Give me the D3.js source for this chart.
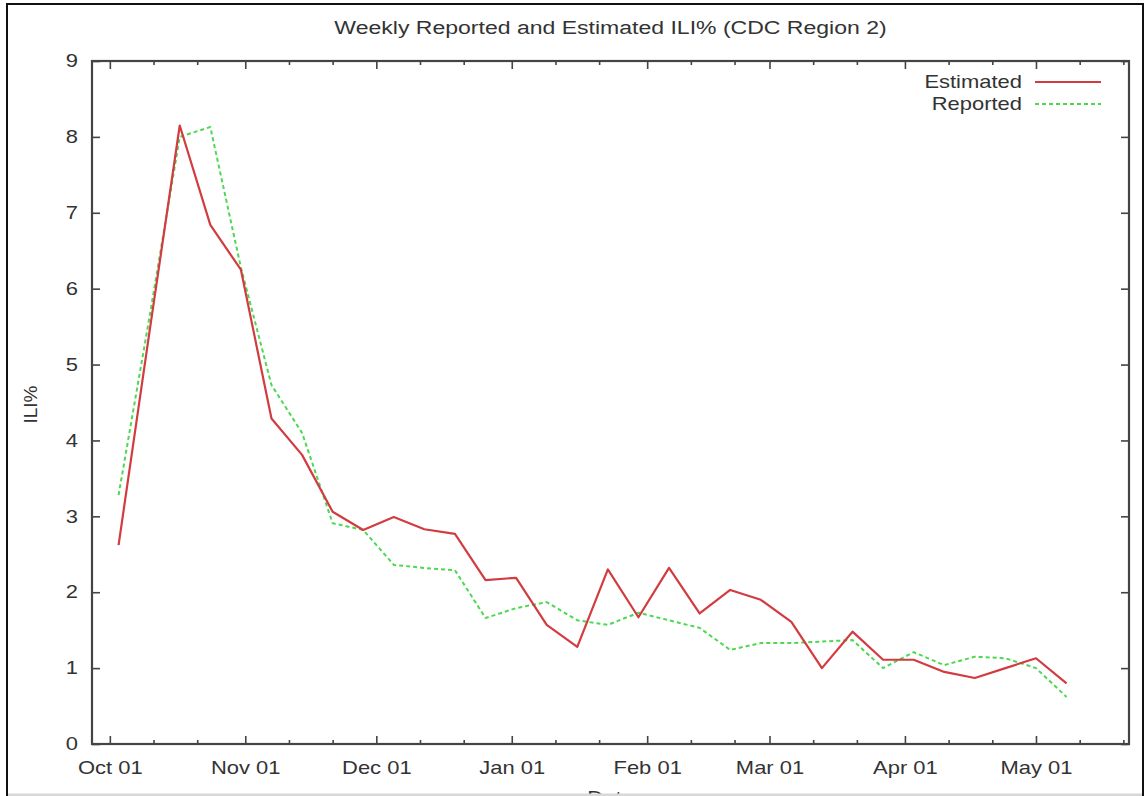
<!DOCTYPE html>
<html>
<head>
<meta charset="utf-8">
<script src="https://cdn.jsdelivr.net/npm/d3@7"></script>
<style>
  html, body { margin: 0; padding: 0; background: #fff; }
  svg { display: block; }
  text { font-family: "Liberation Sans", Arial, Helvetica, sans-serif; fill: #333; }
</style>
</head>
<body>
<svg id="chart" width="1145" height="796"></svg>
<script>
// Week-ending dates (MMWR weeks, 2009-10 season)
const weekEnding = [
  "2009-10-03", "2009-10-10", "2009-10-17", "2009-10-24", "2009-10-31",
  "2009-11-07", "2009-11-14", "2009-11-21", "2009-11-28",
  "2009-12-05", "2009-12-12", "2009-12-19", "2009-12-26",
  "2010-01-02", "2010-01-09", "2010-01-16", "2010-01-23", "2010-01-30",
  "2010-02-06", "2010-02-13", "2010-02-20", "2010-02-27",
  "2010-03-06", "2010-03-13", "2010-03-20", "2010-03-27",
  "2010-04-03", "2010-04-10", "2010-04-17", "2010-04-24",
  "2010-05-01", "2010-05-08"
];

// Estimated ILI% per week
const estimated = [
  2.62, 5.40, 8.15, 6.84, 6.25,
  4.29, 3.81, 3.06, 2.82,
  2.99, 2.83, 2.77, 2.16,
  2.19, 1.57, 1.28, 2.30, 1.67,
  2.32, 1.72, 2.03, 1.90,
  1.61, 1.00, 1.48, 1.11,
  1.11, 0.95, 0.87, 1.00,
  1.13, 0.80
];

// Reported ILI% per week
const reported = [
  3.28, 5.60, 8.00, 8.13, 6.28,
  4.73, 4.10, 2.91, 2.82,
  2.36, 2.32, 2.29, 1.66,
  1.79, 1.87, 1.63, 1.57, 1.73,
  1.63, 1.53, 1.24, 1.33,
  1.33, 1.35, 1.37, 1.00,
  1.21, 1.04, 1.15, 1.13,
  1.00, 0.62
];

// Axis tick values
const yTicks = [0, 1, 2, 3, 4, 5, 6, 7, 8, 9];
const monthTicks = ["2009-10-01", "2009-11-01", "2009-12-01", "2010-01-01",
                    "2010-02-01", "2010-03-01", "2010-04-01", "2010-05-01"];
const minorTicks = ["2009-10-11", "2009-10-21", "2009-11-11", "2009-11-21",
                    "2009-12-11", "2009-12-21", "2010-01-11", "2010-01-21",
                    "2010-02-11", "2010-02-21", "2010-03-11", "2010-03-21",
                    "2010-04-11", "2010-04-21", "2010-05-11", "2010-05-21"];

(function draw() {
  const parse = d3.utcParse("%Y-%m-%d");
  const fmt = d3.utcFormat("%b %d");

  const svg = d3.select("#chart");
  const W = 1145, H = 796;
  const plot = { left: 92, right: 1129, top: 61, bottom: 744 };
  const sx = 1.22;          // horizontal stretch of the lettering
  const fontSize = 18;

  const x = d3.scaleUtc()
    .domain([Date.UTC(2009, 8, 26, 22), Date.UTC(2010, 4, 22, 7)])
    .range([plot.left, plot.right]);
  const y = d3.scaleLinear().domain([0, 9]).range([plot.bottom, plot.top]);

  // Outer frame
  svg.append("rect").attr("x", 0).attr("y", 0).attr("width", W).attr("height", H).attr("fill", "#fff");
  svg.append("path")
    .attr("d", "M7,800 V4 H1143 V800")
    .attr("fill", "none").attr("stroke", "#111").attr("stroke-width", 2);

  // Title
  svg.append("g").attr("transform", `translate(${(plot.left + plot.right) / 2},34)`)
    .append("text")
    .attr("transform", "scale(1.28,1)")
    .attr("text-anchor", "middle").attr("font-size", 18)
    .text("Weekly Reported and Estimated ILI% (CDC Region 2)");

  // Axis labels
  svg.append("text")
    .attr("transform", `translate(37,${(plot.top + plot.bottom) / 2 + 2}) rotate(-90)`)
    .attr("text-anchor", "middle").attr("font-size", 19)
    .text("ILI%");
  svg.append("g").attr("transform", `translate(${(plot.left + plot.right) / 2},804)`)
    .append("text")
    .attr("transform", `scale(${sx},1)`)
    .attr("text-anchor", "middle").attr("font-size", fontSize)
    .text("Date");
  svg.append("rect").attr("x", 8).attr("y", 793.5).attr("width", 1134).attr("height", 2.5).attr("fill", "#d8d8d8");

  const axisColor = "#444";
  const g = svg.append("g");

  // Bottom axis: month ticks with labels, minor ticks at the 11th and 21st
  const axBottom = d3.axisBottom(x).tickValues(monthTicks.map(parse)).tickFormat(fmt)
    .tickSizeInner(-8).tickSizeOuter(0).tickPadding(17);
  const bottomG = g.append("g").attr("transform", `translate(0,${plot.bottom})`).call(axBottom);
  bottomG.selectAll("text")
    .attr("font-size", fontSize).style("fill", "#333")
    .attr("font-family", "Liberation Sans, Arial, sans-serif")
    .attr("transform", `scale(${sx},1)`);
  const axBottomMinor = d3.axisBottom(x).tickValues(minorTicks.map(parse)).tickFormat("")
    .tickSizeInner(-4).tickSizeOuter(0);
  g.append("g").attr("transform", `translate(0,${plot.bottom})`).call(axBottomMinor);

  // Top mirror ticks
  const axTop = d3.axisTop(x).tickValues(monthTicks.map(parse)).tickFormat("")
    .tickSizeInner(-8).tickSizeOuter(0);
  g.append("g").attr("transform", `translate(0,${plot.top})`).call(axTop);
  const axTopMinor = d3.axisTop(x).tickValues(minorTicks.map(parse)).tickFormat("")
    .tickSizeInner(-4).tickSizeOuter(0);
  g.append("g").attr("transform", `translate(0,${plot.top})`).call(axTopMinor);

  // Left axis with labels, right mirror ticks
  const pad = 14;
  const axLeft = d3.axisLeft(y).tickValues(yTicks).tickFormat(d3.format("d"))
    .tickSizeInner(-8).tickSizeOuter(0).tickPadding(pad);
  const leftG = g.append("g").attr("transform", `translate(${plot.left},0)`).call(axLeft);
  leftG.selectAll("text")
    .attr("font-size", fontSize).style("fill", "#333")
    .attr("font-family", "Liberation Sans, Arial, sans-serif")
    .attr("x", -pad / sx)
    .attr("transform", `scale(${sx},1)`);
  const axRight = d3.axisRight(y).tickValues(yTicks).tickFormat("")
    .tickSizeInner(-8).tickSizeOuter(0);
  g.append("g").attr("transform", `translate(${plot.right},0)`).call(axRight);

  g.selectAll(".domain").remove();
  g.selectAll(".tick line").attr("stroke", axisColor).attr("stroke-width", 1.6);

  // Plot border
  svg.append("rect")
    .attr("x", plot.left).attr("y", plot.top)
    .attr("width", plot.right - plot.left).attr("height", plot.bottom - plot.top)
    .attr("fill", "none").attr("stroke", axisColor).attr("stroke-width", 2.2);

  // Series lines
  const dates = weekEnding.map(parse);
  const line = d3.line().x((d, i) => x(dates[i])).y(d => y(d));

  const series = [
    { name: "Estimated", values: estimated, color: "#d23b40", dash: null },
    { name: "Reported", values: reported, color: "#4cd850", dash: "4,3" }
  ];

  svg.append("path").datum(reported)
    .attr("d", line).attr("fill", "none")
    .attr("stroke", series[1].color).attr("stroke-width", 2)
    .attr("stroke-dasharray", series[1].dash).attr("stroke-linejoin", "round");
  svg.append("path").datum(estimated)
    .attr("d", line).attr("fill", "none")
    .attr("stroke", series[0].color).attr("stroke-width", 2.2)
    .attr("stroke-linejoin", "round");

  // Legend
  const legend = svg.append("g");
  series.forEach((s, i) => {
    const ly = 82 + i * 22;
    legend.append("g").attr("transform", `translate(1022,${ly})`)
      .append("text")
      .attr("transform", `scale(${sx},1)`)
      .attr("dy", "0.35em")
      .attr("text-anchor", "end").attr("font-size", fontSize)
      .text(s.name);
    legend.append("line")
      .attr("x1", 1035).attr("x2", 1101).attr("y1", ly).attr("y2", ly)
      .attr("stroke", s.color).attr("stroke-width", 2)
      .attr("stroke-dasharray", s.dash);
  });
})();
</script>
</body>
</html>
